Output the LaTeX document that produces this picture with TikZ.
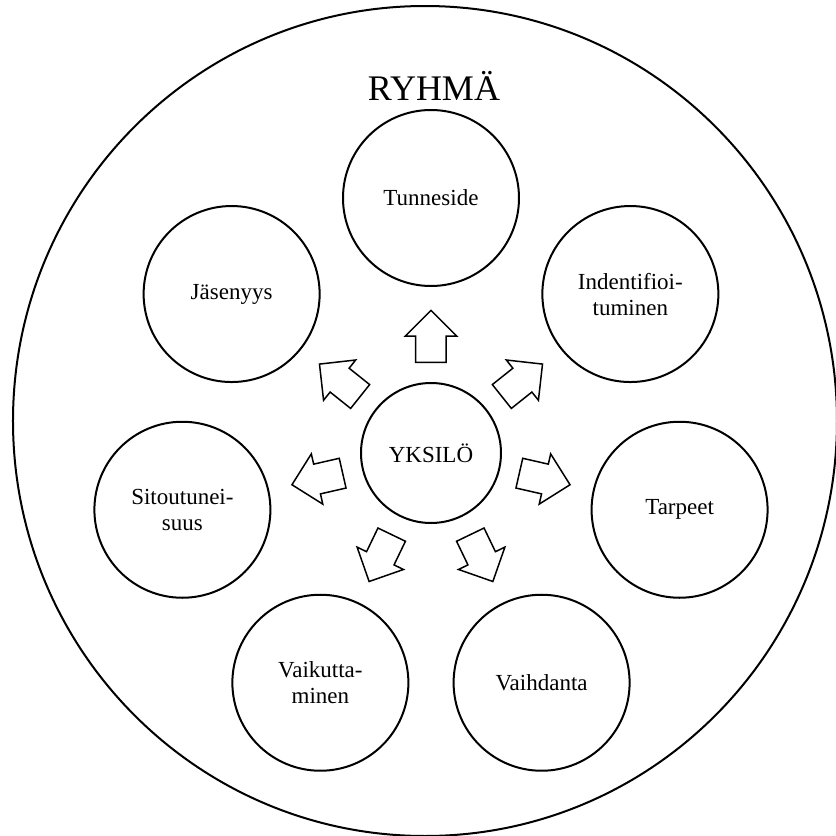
\documentclass[tikz,border=0pt]{standalone}
\usepackage{fontspec}
\setmainfont{Liberation Serif}
\usetikzlibrary{shapes.arrows}

\begin{document}
\begin{tikzpicture}[
    circ/.style={draw, circle, line width=1pt, minimum size=88pt, inner sep=0pt, align=center, font=\fontsize{11.5}{13}\selectfont},
    blockarrow/.style={draw, single arrow, line width=0.75pt, minimum height=26pt, minimum width=25pt, single arrow head extend=5.25pt, inner sep=0pt, inner ysep=7.25pt}
  ]
  \useasboundingbox (-215.5pt,-191.5pt) rectangle (202.5pt,226.5pt);
  \draw[line width=1pt] (-3pt,16pt) ellipse [x radius=206pt, y radius=207.5pt];
  \node[anchor=base, font=\fontsize{18}{21}\selectfont] (ryhma) at (1.5pt,176pt) {RYHMÄ};

  \node[circ, minimum size=70pt] (yksilo) at (0,0) {YKSILÖ};

  \node[circ] (tunneside) at (90:127.5pt) {Tunneside};
  \node[circ] (ident) at (38.57:127.5pt) {Indentifioi-\\tuminen};
  \node[circ] (tarpeet) at (-12.86:127.5pt) {Tarpeet};
  \node[circ] (vaihdanta) at (-64.29:127.5pt) {Vaihdanta};
  \node[circ] (vaikutt) at (-115.71:127.5pt) {Vaikutta-\\minen};
  \node[circ] (sitout) at (-167.14:127.5pt) {Sitoutunei-\\suus};
  \node[circ] (jasenyys) at (141.43:127.5pt) {Jäsenyys};

  % nuolet yksilöstä ulospäin
  \node[blockarrow, rotate=90] (a1) at (90:54.5pt) {};
  \node[blockarrow, rotate=38.57] (a2) at (38.57:54.5pt) {};
  \node[blockarrow, rotate=-12.86] (a3) at (-12.86:54.5pt) {};
  \node[blockarrow, rotate=-64.29] (a4) at (-64.29:54.5pt) {};
  \node[blockarrow, rotate=-115.71] (a5) at (-115.71:54.5pt) {};
  \node[blockarrow, rotate=-167.14] (a6) at (-167.14:54.5pt) {};
  \node[blockarrow, rotate=141.43] (a7) at (141.43:54.5pt) {};
\end{tikzpicture}
\end{document}
